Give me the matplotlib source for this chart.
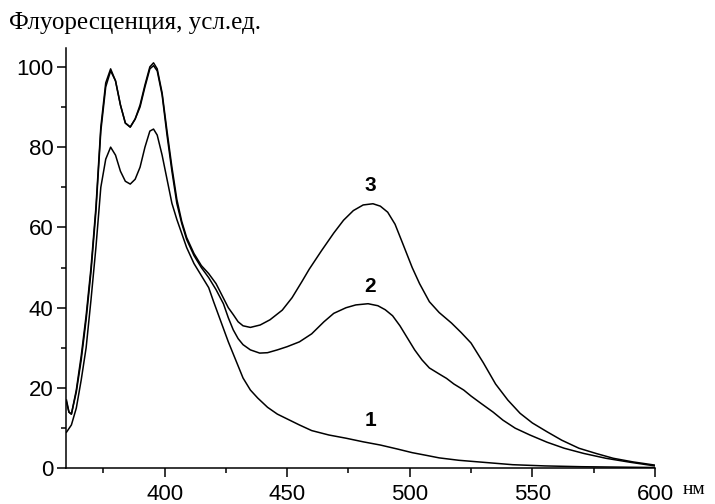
import numpy as np
import matplotlib
matplotlib.use("Agg")
import matplotlib.pyplot as plt
from matplotlib.ticker import MultipleLocator

# spectra (wavelength, nm / fluorescence, a.u.)
wl_1 = [360, 362, 364, 366, 368, 370, 372, 374, 376, 378, 380, 382, 384, 386, 388,
        390, 392, 394, 395.5, 397, 399, 401, 403, 405, 407, 409, 412, 415, 418, 420,
        423, 426, 429, 432, 435, 438, 442, 446, 451, 455, 460, 467, 474, 481, 488,
        495, 501, 507, 512, 520, 530, 542, 555, 570, 585, 600]
fl_1 = [9, 10.8, 15, 22, 30, 42, 55, 70, 77, 80, 78, 74, 71.5, 70.8, 72,
        75, 80, 84, 84.5, 83, 78, 72, 66, 62, 58.5, 55, 51, 48, 45, 41.5,
        36.5, 31.5, 27, 22.5, 19.5, 17.5, 15.2, 13.5, 12, 10.8, 9.4, 8.3, 7.5, 6.6, 5.8,
        4.8, 3.9, 3.2, 2.6, 2.0, 1.5, 0.9, 0.6, 0.4, 0.3, 0.2]

wl_2 = [360, 361, 362, 364, 366, 368, 370, 372, 374, 376, 378, 380, 382, 384, 386,
        388, 390, 392, 394, 395.5, 397, 399, 401, 403, 405, 407, 409, 412, 415, 418,
        421, 424, 426, 428, 430, 432, 435, 438.8, 442, 446, 450, 455, 460, 465, 469,
        474, 478, 483, 487, 490, 493, 496, 499, 502, 505, 508, 512, 515, 518, 522,
        525, 529, 534, 538, 543, 549, 556, 563, 571, 580, 590, 600]
fl_2 = [16.5, 14, 13.5, 19, 27, 37, 49, 64, 84, 95, 99, 96.5, 90.5, 86, 85,
        87, 90, 95, 99.5, 100.3, 99, 93, 83, 74, 66, 61, 57, 53, 50, 47.5,
        44.5, 41, 37.5, 34.5, 32.3, 30.8, 29.5, 28.7, 28.8, 29.5, 30.3, 31.5, 33.5, 36.5, 38.6,
        40, 40.7, 41, 40.5, 39.5, 38, 35.5, 32.5, 29.5, 27, 25, 23.5, 22.4, 21, 19.5,
        18, 16.2, 14, 12, 10, 8.3, 6.5, 5, 3.7, 2.5, 1.5, 0.6]

wl_3 = [360, 361, 362, 364, 366, 368, 370, 372, 374, 376, 378, 380, 382, 384, 386,
        388, 390, 392, 394, 395.5, 397, 399, 401, 403, 405, 407, 409, 412, 415, 418,
        421, 424, 426, 428, 430, 432, 435, 439, 443, 448, 452, 456, 459, 464, 469,
        473, 477, 481, 485, 488, 491, 494, 497, 501, 504, 508, 512, 517, 521, 525,
        530, 535, 540, 545, 550, 556, 562, 569, 576, 583, 591, 600]
fl_3 = [17, 14, 13.5, 19.5, 28, 38, 50, 65, 85, 96, 99.5, 96.5, 90.5, 86, 85,
        87, 90.5, 95.5, 100, 101, 99.5, 93.5, 84, 75, 67, 61.5, 57.5, 53.5, 50.5, 48.5,
        46, 42.4, 40, 38.3, 36.5, 35.5, 35.1, 35.7, 37, 39.4, 42.5, 46.5, 49.6, 54.2, 58.6,
        61.8, 64.2, 65.6, 65.9, 65.3, 63.8, 60.8, 56.2, 50, 46, 41.5, 38.8, 36.2, 33.8, 31.2,
        26.3, 21, 17, 13.7, 11.3, 9.1, 7, 5, 3.7, 2.5, 1.6, 0.8]

curve_labels = ["1", "2", "3"]
label_x = [484, 484, 484]
label_y = [11.9, 45.4, 70.4]

plt.rcParams['font.family'] = ['Liberation Sans', 'DejaVu Sans']

fig = plt.figure(figsize=(7.15, 5.04), dpi=100)
fig.patch.set_facecolor('white')
ax = fig.add_axes([0.093, 0.0708, 0.823, 0.834])

for wl, fl in [(wl_1, fl_1), (wl_2, fl_2), (wl_3, fl_3)]:
    ax.plot(wl, fl, color='black', lw=1.1)

for t, x, y in zip(curve_labels, label_x, label_y):
    ax.text(x, y, t, ha='center', va='center', fontsize=15, fontweight='bold')

ax.set_xlim(360, 600)
ax.set_ylim(0, 104.7)
ax.xaxis.set_major_locator(MultipleLocator(50))
ax.xaxis.set_minor_locator(MultipleLocator(25))
ax.yaxis.set_major_locator(MultipleLocator(20))
ax.yaxis.set_minor_locator(MultipleLocator(10))
ax.set_xticks([400, 450, 500, 550, 600])

for s in ['top', 'right']:
    ax.spines[s].set_visible(False)
for s in ['left', 'bottom']:
    ax.spines[s].set_linewidth(1.1)

ax.tick_params(axis='both', which='major', length=6.5, width=1.1, labelsize=16, pad=3)
ax.tick_params(axis='both', which='minor', length=3.6, width=1.1)
ax.tick_params(axis='x', which='major', pad=4.5)

fig.text(9 / 715, 1 - 29 / 504, 'Флуоресценция, усл.ед.', family='Liberation Serif',
         fontsize=18, ha='left', va='baseline')
fig.text(683 / 715, 1 - 494 / 504, 'нм', family='Liberation Serif',
         fontsize=14, ha='left', va='baseline')

fig.savefig('out.png', dpi=100, facecolor='white')
